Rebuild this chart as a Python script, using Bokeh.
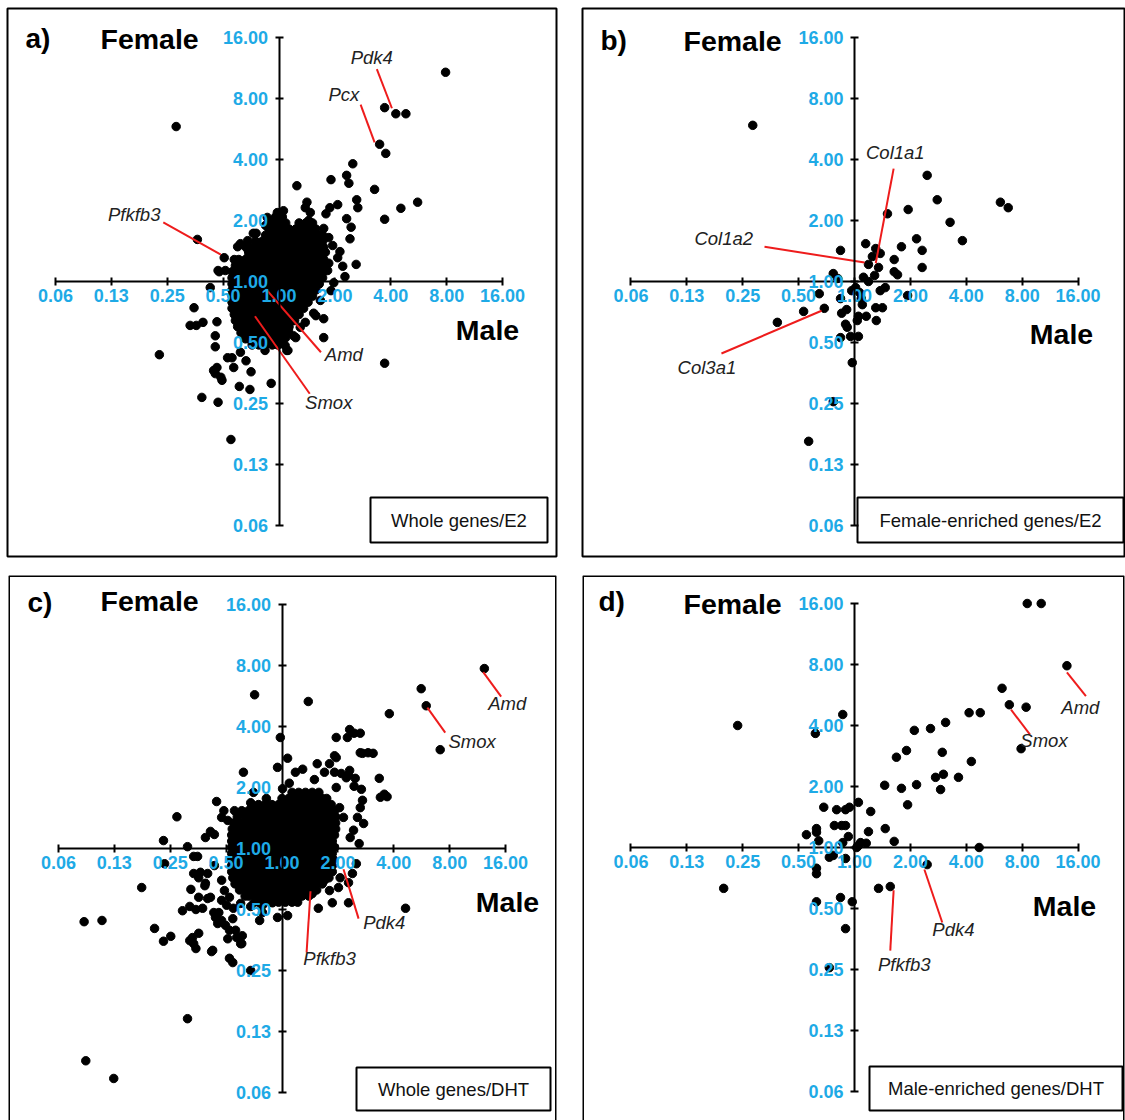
from bokeh.plotting import figure
from bokeh.layouts import column, row
from bokeh.models import FixedTicker, NumeralTickFormatter, Label, Range1d
from bokeh.embed import file_html
from bokeh.resources import INLINE

# ---------------- axis ticks ----------------
TICK_VALUES = [0.0625, 0.125, 0.25, 0.5, 1.0, 2.0, 4.0, 8.0, 16.0]
TICK_LABELS = ["0.06", "0.13", "0.25", "0.50", "1.00", "2.00", "4.00", "8.00", "16.00"]

X_TITLE = "Male"
Y_TITLE = "Female"
PANEL_LETTERS = ["a)", "b)", "c)", "d)"]
PANEL_NAMES = ["Whole genes/E2", "Female-enriched genes/E2",
               "Whole genes/DHT", "Male-enriched genes/DHT"]

# ---------------- data (log2 fold change: (male, female)) ----------------
# dense core of the whole-gene clouds, rows of (female_log2, [male_log2 ...])
A_CORE = [
    (1.06, [-0.06, 0.06]),
    (0.96, [-0.12, 0.0, 0.12, 0.36, 0.48, 0.60]),
    (0.86, [-0.18, -0.06, 0.06, 0.18, 0.30, 0.42, 0.54, 0.66]),
    (0.76, [-0.24, -0.12, 0.0, 0.12, 0.24, 0.36, 0.48, 0.60, 0.72, 0.78]),
    (0.66, [-0.42, -0.30, -0.18, -0.06, 0.06, 0.18, 0.30, 0.42, 0.54, 0.66, 0.78]),
    (0.56, [-0.48, -0.36, -0.24, -0.12, 0.0, 0.12, 0.24, 0.36, 0.48, 0.60, 0.72, 0.80]),
    (0.46, [-0.54, -0.42, -0.30, -0.18, -0.06, 0.06, 0.18, 0.30, 0.42, 0.54, 0.66, 0.78]),
    (0.36, [-0.72, -0.60, -0.48, -0.36, -0.24, -0.12, 0.0, 0.12, 0.24, 0.36, 0.48, 0.60, 0.72, 0.80]),
    (0.26, [-0.78, -0.66, -0.54, -0.42, -0.30, -0.18, -0.06, 0.06, 0.18, 0.30, 0.42, 0.54, 0.66, 0.78]),
    (0.16, [-0.84, -0.72, -0.60, -0.48, -0.36, -0.24, -0.12, 0.0, 0.12, 0.24, 0.36, 0.48, 0.60, 0.72, 0.80]),
    (0.06, [-0.84, -0.78, -0.66, -0.54, -0.42, -0.30, -0.18, -0.06, 0.06, 0.18, 0.30, 0.42, 0.54, 0.66, 0.78]),
    (-0.04, [-0.84, -0.72, -0.60, -0.48, -0.36, -0.24, -0.12, 0.0, 0.12, 0.24, 0.36, 0.48, 0.60, 0.72]),
    (-0.14, [-0.84, -0.78, -0.66, -0.54, -0.42, -0.30, -0.18, -0.06, 0.06, 0.18, 0.30, 0.42, 0.54, 0.66]),
    (-0.24, [-0.84, -0.72, -0.60, -0.48, -0.36, -0.24, -0.12, 0.0, 0.12, 0.24, 0.36, 0.48, 0.60]),
    (-0.34, [-0.84, -0.78, -0.66, -0.54, -0.42, -0.30, -0.18, -0.06, 0.06, 0.18, 0.30, 0.42, 0.52]),
    (-0.44, [-0.84, -0.72, -0.60, -0.48, -0.36, -0.24, -0.12, 0.0, 0.12, 0.24, 0.36, 0.44]),
    (-0.54, [-0.80, -0.66, -0.54, -0.42, -0.30, -0.18, -0.06, 0.06, 0.18, 0.30, 0.36]),
    (-0.64, [-0.78, -0.72, -0.60, -0.48, -0.36, -0.24, -0.12, 0.0, 0.12, 0.24, 0.28]),
    (-0.74, [-0.74, -0.66, -0.54, -0.42, -0.30, -0.18, -0.06, 0.06, 0.18]),
    (-0.84, [-0.68, -0.60, -0.48, -0.36, -0.24, -0.12, 0.0, 0.12]),
    (-0.94, [-0.60, -0.54, -0.42, -0.30, -0.18, -0.06, 0.06]),
    (-1.04, [-0.48, -0.36, -0.24, -0.12, -0.02]),
]

A_POINTS = [
    (2.98, 3.43), (1.89, 2.85), (2.09, 2.75), (2.27, 2.75), (-1.84, 2.54), (1.80, 2.25),
    (1.91, 2.10), (1.32, 1.93), (1.21, 1.74), (1.25, 1.61), (0.93, 1.67), (0.32, 1.57),
    (1.71, 1.51), (1.39, 1.34), (2.48, 1.30), (2.18, 1.20), (1.89, 1.02), (0.50, 1.30),
    (1.05, 1.26), (0.91, 1.21), (1.41, 1.21), (1.21, 1.03), (1.29, 0.89), (1.27, 0.70),
    (1.09, 0.49), (1.38, 0.28), (1.18, 0.08), (1.14, 0.25), (-1.46, 0.69), (-0.41, 0.79),
    (-0.98, 0.39), (-0.80, 0.36), (-1.07, 0.16), (-1.23, -0.10), (-0.21, 1.05), (-1.52, -0.43),
    (-1.59, -0.72), (-1.48, -0.72), (-1.36, -0.67), (-1.11, -0.66), (-1.14, -0.89), (-2.14, -1.20),
    (-1.14, -1.07), (-0.84, -1.25), (-0.59, -1.30), (-1.11, -1.41), (-1.14, -1.51), (-0.50, -1.48),
    (-1.02, -1.62), (-0.71, -1.72), (-0.52, -1.77), (-0.14, -1.67), (-1.38, -1.90), (-1.09, -1.98),
    (-0.86, -2.59), (1.89, -1.34), (0.80, -0.92), (0.66, -0.56), (0.80, -0.61), (0.30, -0.92),
    (0.14, -1.13), (-0.25, -1.13), (0.11, -1.05), (0.84, 1.11), (0.98, -0.02), (0.93, -0.15),
    (0.26, -0.89), (0.16, -1.13), (0.03, -1.02), (-0.46, 0.79), (-0.69, 0.62), (-0.55, 0.51),
    (-1.09, 0.18), (-0.96, 0.18), (-0.92, -1.25), (-0.69, -1.16), (-0.81, -1.41), (-1.04, -1.57),
    (-1.17, -1.46), (-0.74, 0.57), (-0.60, 0.57), (-0.56, 0.67), (-0.03, 1.13), (0.03, 1.05),
    (0.08, 1.16), (-0.15, 1.00), (-0.24, 0.92), (0.47, 1.21), (0.56, 1.13), (0.53, 1.00),
    (0.42, 0.89), (0.80, 0.87), (0.89, 0.72), (0.96, 0.59), (0.83, 0.48), (0.89, 0.30),
    (0.87, 0.18), (1.05, 0.39), (0.74, -0.31), (0.62, -0.52), (0.47, -0.67), (0.38, -0.75),
    (0.17, -0.80), (0.12, -0.92),
]

B_POINTS = [
    (-1.82, 2.56), (1.30, 1.74), (1.48, 1.34), (2.61, 1.30), (2.75, 1.21), (0.96, 1.18),
    (0.59, 1.11), (1.71, 0.97), (1.93, 0.67), (1.11, 0.70), (0.84, 0.57), (1.21, 0.51),
    (-0.25, 0.51), (0.20, 0.62), (0.38, 0.54), (0.46, 0.46), (0.32, 0.41), (0.71, 0.36),
    (0.25, 0.28), (0.43, 0.23), (1.21, 0.23), (0.71, 0.16), (0.77, 0.11), (0.36, 0.10),
    (-0.38, 0.13), (-0.30, 0.05), (0.16, 0.07), (0.25, 0.0), (-0.63, -0.20), (-0.91, -0.49),
    (-1.38, -0.67), (-0.54, -0.44), (-0.25, -0.28), (-0.23, -0.52), (-0.16, -0.70), (-0.13, -0.75),
    (-0.25, -0.92), (-0.07, -0.90), (0.07, -0.90), (-0.04, -1.33), (-0.38, -1.97), (-0.82, -2.62),
    (-0.05, -0.15), (0.02, -0.10), (0.09, -0.18), (0.12, -0.28), (0.14, -0.38), (-0.14, -0.46),
    (0.07, -0.57), (0.05, -0.64), (0.38, -0.43), (0.50, -0.43), (0.39, -0.64), (0.46, -0.15),
    (0.55, -0.10), (0.95, -0.23), (0.21, -0.57),
]

C_CORE = [
    (0.92, [0.18, 0.30, 0.42, 0.54, 0.66]),
    (0.82, [0.0, 0.12, 0.24, 0.36, 0.48, 0.60, 0.72, 0.80]),
    (0.72, [-0.54, -0.42, -0.30, -0.18, -0.06, 0.06, 0.18, 0.30, 0.42, 0.54, 0.66, 0.78, 0.88]),
    (0.62, [-0.72, -0.60, -0.48, -0.36, -0.24, -0.12, 0.0, 0.12, 0.24, 0.36, 0.48, 0.60, 0.72, 0.84, 0.94]),
    (0.52, [-0.80, -0.66, -0.54, -0.42, -0.30, -0.18, -0.06, 0.06, 0.18, 0.30, 0.42, 0.54, 0.66, 0.78, 0.90, 0.96]),
    (0.42, [-0.86, -0.72, -0.60, -0.48, -0.36, -0.24, -0.12, 0.0, 0.12, 0.24, 0.36, 0.48, 0.60, 0.72, 0.84, 0.96]),
    (0.32, [-0.89, -0.78, -0.66, -0.54, -0.42, -0.30, -0.18, -0.06, 0.06, 0.18, 0.30, 0.42, 0.54, 0.66, 0.78, 0.90, 0.96]),
    (0.22, [-0.90, -0.84, -0.72, -0.60, -0.48, -0.36, -0.24, -0.12, 0.0, 0.12, 0.24, 0.36, 0.48, 0.60, 0.72, 0.84, 0.94]),
    (0.12, [-0.90, -0.78, -0.66, -0.54, -0.42, -0.30, -0.18, -0.06, 0.06, 0.18, 0.30, 0.42, 0.54, 0.66, 0.78, 0.90]),
    (0.02, [-0.90, -0.84, -0.72, -0.60, -0.48, -0.36, -0.24, -0.12, 0.0, 0.12, 0.24, 0.36, 0.48, 0.60, 0.72, 0.84, 0.94]),
    (-0.08, [-0.90, -0.78, -0.66, -0.54, -0.42, -0.30, -0.18, -0.06, 0.06, 0.18, 0.30, 0.42, 0.54, 0.66, 0.78, 0.90]),
    (-0.18, [-0.90, -0.84, -0.72, -0.60, -0.48, -0.36, -0.24, -0.12, 0.0, 0.12, 0.24, 0.36, 0.48, 0.60, 0.72, 0.84, 0.92]),
    (-0.28, [-0.90, -0.78, -0.66, -0.54, -0.42, -0.30, -0.18, -0.06, 0.06, 0.18, 0.30, 0.42, 0.54, 0.66, 0.78, 0.90]),
    (-0.38, [-0.90, -0.84, -0.72, -0.60, -0.48, -0.36, -0.24, -0.12, 0.0, 0.12, 0.24, 0.36, 0.48, 0.60, 0.72, 0.84, 0.90]),
    (-0.48, [-0.88, -0.78, -0.66, -0.54, -0.42, -0.30, -0.18, -0.06, 0.06, 0.18, 0.30, 0.42, 0.54, 0.66, 0.78, 0.84]),
    (-0.58, [-0.84, -0.72, -0.60, -0.48, -0.36, -0.24, -0.12, 0.0, 0.12, 0.24, 0.36, 0.48, 0.60, 0.72]),
    (-0.68, [-0.76, -0.66, -0.54, -0.42, -0.30, -0.18, -0.06, 0.06, 0.18, 0.30, 0.42, 0.54, 0.62]),
    (-0.78, [-0.66, -0.60, -0.48, -0.36, -0.24, -0.12, 0.0, 0.12, 0.24, 0.36, 0.48]),
    (-0.88, [-0.50, -0.42, -0.30, -0.18, -0.06, 0.06, 0.18, 0.28]),
]

C_POINTS = [
    (3.62, 2.95), (2.49, 2.62), (2.58, 2.34), (2.83, 1.62), (1.92, 2.21), (0.47, 2.41),
    (-0.49, 2.52), (-0.03, 1.82), (0.97, 1.82), (1.21, 1.95), (1.29, 1.89), (1.17, 1.82),
    (1.40, 1.89), (1.44, 1.56), (1.54, 1.57), (1.63, 1.56), (0.97, 1.49), (0.10, 1.48),
    (0.63, 1.39), (0.85, 1.39), (-0.08, 1.33), (0.24, 1.25), (0.37, 1.30), (-0.69, 1.25),
    (0.76, 1.25), (0.94, 1.25), (1.06, 1.23), (1.15, 1.16), (1.21, 1.28), (0.58, 1.13),
    (1.31, 1.15), (1.74, 1.15), (1.29, 1.02), (1.42, 0.97), (1.44, 0.79), (1.76, 0.84),
    (1.83, 0.89), (1.88, 0.85), (0.97, 1.00), (0.13, 1.07), (0.01, 0.98), (0.94, 1.52),
    (1.40, 1.57), (1.19, 1.20), (1.40, 0.67), (1.35, 0.51), (1.46, 0.41), (1.28, 0.30),
    (1.22, 0.18), (1.38, 0.08), (1.33, -0.25), (1.26, -0.41), (1.19, -0.56), (1.04, -0.48),
    (1.01, -0.64), (0.85, -0.69), (0.76, -0.52), (0.54, -0.74), (0.65, -0.98), (0.90, -0.89),
    (1.19, -0.89), (2.21, -0.98), (-0.08, -1.13), (0.10, -1.10), (-0.40, -1.18), (-0.35, -1.05),
    (1.10, 0.51), (1.03, 0.67),
    (-1.17, 0.77), (-1.88, 0.52), (-2.12, 0.13), (-1.69, 0.03), (-1.58, -0.13), (-1.51, -0.13),
    (-1.37, 0.18), (-1.28, 0.28), (-1.21, 0.23), (-1.04, 0.62), (-1.08, 0.51), (-0.97, 0.46),
    (-0.85, 0.62), (-0.56, 0.75), (-0.51, 0.92), (-0.28, 0.82), (-2.10, -0.25), (-2.51, -0.64),
    (-3.54, -1.20), (-3.22, -1.18), (-2.28, -1.31), (-2.12, -1.52), (-1.99, -1.44), (-1.63, -0.67),
    (-1.38, -0.61), (-1.49, -0.48), (-1.78, -1.02), (-1.65, -0.95), (-1.54, -1.00), (-1.42, -0.98),
    (-1.49, -0.80), (-1.33, -0.82), (-1.65, -1.51), (-1.54, -1.64), (-1.49, -1.39), (-1.26, -1.69),
    (-0.94, -1.80), (-0.88, -1.87), (-0.56, -2.00), (-1.19, -1.13), (-1.13, -1.05), (-1.08, -1.18),
    (-1.01, -1.26), (-0.88, -1.15), (-0.94, -1.34), (-0.81, -1.46), (-0.72, -1.56), (-0.97, -1.48),
    (-1.69, -2.79), (-3.51, -3.48), (-3.01, -3.77), (-1.21, -0.28), (-1.33, -0.41), (-1.46, -0.39),
    (-1.08, -0.52), (-1.03, -0.69), (-0.94, -0.80), (-1.08, -0.85), (-1.58, -0.41), (-1.37, -0.57),
    (-1.28, -0.80), (-1.22, -1.05), (-1.15, -1.23), (-0.83, -1.34), (-0.74, -1.56), (-0.71, -1.43),
    (-1.24, -1.67), (-1.60, -1.46), (-1.58, -1.56), (-0.99, -0.93), (-0.87, -0.98), (-0.74, -0.90),
    (-0.56, -0.95), (-0.35, -0.93), (-0.17, -0.89),
]

D_POINTS = [
    (3.09, 4.00), (3.34, 4.00), (3.80, 2.98), (2.64, 2.61), (2.77, 2.34), (3.07, 2.30),
    (2.05, 2.21), (2.25, 2.21), (2.98, 1.62), (1.63, 2.05), (1.36, 1.95), (1.07, 1.92),
    (-0.21, 2.18), (-2.09, 2.00), (-0.70, 1.87), (0.93, 1.59), (0.75, 1.48), (1.57, 1.56),
    (2.09, 1.41), (1.45, 1.15), (1.59, 1.20), (1.86, 1.15), (1.54, 0.95), (0.54, 1.02),
    (0.84, 0.97), (1.11, 1.03), (0.95, 0.70), (0.07, 0.74), (0.29, 0.59), (-0.55, 0.66),
    (-0.32, 0.62), (-0.16, 0.62), (-0.09, 0.66), (0.25, 0.26), (0.55, 0.31), (0.71, 0.10),
    (-0.86, 0.21), (-0.68, 0.31), (-0.68, 0.25), (-0.64, 0.11), (-0.36, 0.36), (-0.23, 0.36),
    (-0.16, 0.36), (-0.21, 0.08), (-0.11, 0.18), (0.11, 0.08), (0.07, 0.03), (0.04, 0.0),
    (-0.45, -0.16), (-0.38, -0.13), (-0.16, -0.18), (-0.68, -0.34), (-0.68, -0.43), (0.43, -0.67),
    (0.64, -0.64), (-0.68, -0.89), (-0.25, -0.82), (-0.04, -0.89), (-0.16, -1.33), (-2.34, -0.67),
    (-0.45, -1.97), (2.23, 0.0), (1.30, -0.28), (0.21, 0.07),
]

# gene call-outs: (name, text_x, text_y, line_x0, line_y0, line_x1, line_y1) in log2 units
A_GENES = [("Pdk4", 1.66, 3.67, 1.75, 3.48, 2.02, 2.84),
           ("Pcx", 1.16, 3.07, 1.46, 2.90, 1.71, 2.28),
           ("Pfkfb3", -2.59, 1.10, -2.07, 0.97, -1.04, 0.44),
           ("Amd", 1.16, -1.20, -0.23, -0.13, 0.75, -1.16),
           ("Smox", 0.89, -1.98, -0.43, -0.57, 0.55, -1.84)]
B_GENES = [("Col1a1", 0.73, 2.11, 0.70, 1.85, 0.38, 0.30),
           ("Col1a2", -2.34, 0.70, -1.61, 0.57, 0.18, 0.31),
           ("Col3a1", -2.64, -1.41, -2.38, -1.18, -0.59, -0.48)]
C_GENES = [("Amd", 4.03, 2.38, 3.60, 2.89, 3.92, 2.49),
           ("Smox", 3.40, 1.75, 2.60, 2.31, 2.92, 1.90),
           ("Pdk4", 1.83, -1.21, 1.10, -0.34, 1.37, -1.15),
           ("Pfkfb3", 0.85, -1.80, 0.51, -0.70, 0.44, -1.70)]
D_GENES = [("Amd", 4.04, 2.30, 3.80, 2.87, 4.14, 2.48),
           ("Smox", 3.39, 1.75, 2.80, 2.26, 3.14, 1.85),
           ("Pdk4", 1.77, -1.34, 1.25, -0.36, 1.57, -1.23),
           ("Pfkfb3", 0.89, -1.92, 0.70, -0.70, 0.64, -1.69)]

# ---------------- style / layout ----------------
BLUE = "#1EAAE6"
RED = "#EE1C1C"
FONT = "Liberation Sans"
SX, SY = 55.9, 61.0   # pixels per doubling

# page-pixel geometry of each panel
GEOM = [
    dict(ox=0, oy=0, w=575, h=567, fl=7, ft=8, fw=549, fh=548, X0=278.5, Y0=281, open_bottom=False,
         letter=(25, 38), female=(100, 38), male=(487, 329), box=(370, 497, 547, 542)),
    dict(ox=575, oy=0, w=550, h=567, fl=582, ft=8, fw=542, fh=548, X0=854, Y0=281, open_bottom=False,
         letter=(600, 40), female=(683, 40), male=(1061, 333), box=(857, 497, 1123, 542)),
    dict(ox=0, oy=567, w=575, h=553, fl=8, ft=575, fw=548, fh=545, X0=281.5, Y0=848, open_bottom=True,
         letter=(27, 602), female=(100, 600), male=(507, 901), box=(356, 1067, 550, 1110)),
    dict(ox=575, oy=567, w=550, h=553, fl=582, ft=575, fw=542, fh=545, X0=854, Y0=847, open_bottom=True,
         letter=(598, 601), female=(683, 603), male=(1064, 905), box=(869, 1066, 1122, 1110)),
]


def px2d(g, px, py):
    return 2 ** ((px - g["X0"]) / SX), 2 ** ((g["Y0"] - py) / SY)


def build(idx, core, points, genes):
    g = GEOM[idx]
    x0, y1 = px2d(g, g["fl"], g["ft"])
    x1, y0 = px2d(g, g["fl"] + g["fw"], g["ft"] + g["fh"])
    p = figure(width=g["w"], height=g["h"], x_axis_type="log", y_axis_type="log",
               x_range=Range1d(x0, x1), y_range=Range1d(y0, y1),
               toolbar_location=None, output_backend="svg", title=None,
               min_border_left=g["fl"] - g["ox"], min_border_top=g["ft"] - g["oy"],
               min_border_right=g["w"] - (g["fl"] - g["ox"]) - g["fw"],
               min_border_bottom=g["h"] - (g["ft"] - g["oy"]) - g["fh"])
    p.xgrid.visible = False
    p.ygrid.visible = False
    p.background_fill_color = "white"
    p.border_fill_color = "white"
    if g["open_bottom"]:
        # panel continues below the page edge: draw only left, top and right edges
        p.outline_line_color = None
        L, T = g["fl"] + 0.5, g["ft"] + 0.5
        R, B = g["fl"] + g["fw"] - 0.5, g["ft"] + g["fh"] + 5
        pts = [px2d(g, L, B), px2d(g, L, T), px2d(g, R, T), px2d(g, R, B)]
        p.line([q[0] for q in pts], [q[1] for q in pts], line_color="black", line_width=2)
    else:
        p.outline_line_color = "black"
        p.outline_line_width = 2

    for ax, standoff in ((p.xaxis[0], 3), (p.yaxis[0], 7)):
        ax.ticker = FixedTicker(ticks=TICK_VALUES, minor_ticks=[])
        ax.formatter = NumeralTickFormatter(format="0.00")
        ax.major_label_overrides = dict(zip(TICK_VALUES, TICK_LABELS))
        ax.fixed_location = 1.0
        ax.bounds = (TICK_VALUES[0], TICK_VALUES[-1])
        ax.axis_line_width = 2
        ax.axis_line_color = "black"
        ax.major_tick_line_width = 2
        ax.major_tick_line_color = "black"
        ax.major_tick_in = 4
        ax.major_tick_out = 4
        ax.minor_tick_line_color = None
        ax.major_label_text_color = BLUE
        ax.major_label_text_font = FONT
        ax.major_label_text_font_style = "bold"
        ax.major_label_text_font_size = "18px"
        ax.major_label_standoff = standoff

    # dense core
    if core:
        cx = [2 ** lx for ly, lxs in core for lx in lxs]
        cy = [2 ** ly for ly, lxs in core for lx in lxs]
        p.scatter(cx, cy, size=8.5, marker="circle", color="black")
    px = [2 ** a for a, b in points]
    py = [2 ** b for a, b in points]
    p.scatter(px, py, size=8.5, marker="circle", color="black")

    # call-out lines and names
    p.segment(x0=[2 ** gg[3] for gg in genes], y0=[2 ** gg[4] for gg in genes],
              x1=[2 ** gg[5] for gg in genes], y1=[2 ** gg[6] for gg in genes],
              line_color=RED, line_width=2)
    for name, tx, ty, *_ in genes:
        p.add_layout(Label(x=2 ** tx, y=2 ** ty, text=name, text_font=FONT,
                           text_font_style="italic", text_font_size="18.5px",
                           text_color="#222222", text_align="center",
                           text_baseline="middle"))

    # panel decorations
    lx_, ly_ = px2d(g, *g["letter"])
    p.add_layout(Label(x=lx_, y=ly_, text=PANEL_LETTERS[idx], text_font=FONT,
                       text_font_style="bold", text_font_size="28px", text_color="black",
                       text_align="left", text_baseline="middle"))
    fx, fy = px2d(g, *g["female"])
    p.add_layout(Label(x=fx, y=fy, text=Y_TITLE, text_font=FONT, text_font_style="bold",
                       text_font_size="28.5px", text_color="black", text_align="left",
                       text_baseline="middle"))
    mx, my = px2d(g, *g["male"])
    p.add_layout(Label(x=mx, y=my, text=X_TITLE, text_font=FONT, text_font_style="bold",
                       text_font_size="28.5px", text_color="black", text_align="center",
                       text_baseline="middle"))
    bl, bt, br, bb = g["box"]
    qx0, qy1 = px2d(g, bl, bt)
    qx1, qy0 = px2d(g, br, bb)
    p.quad(left=[qx0], right=[qx1], bottom=[qy0], top=[qy1], fill_color="white",
           line_color="black", line_width=2)
    tx_, ty_ = px2d(g, (bl + br) / 2, (bt + bb) / 2)
    p.add_layout(Label(x=tx_, y=ty_, text=PANEL_NAMES[idx], text_font=FONT,
                       text_font_size="18.5px", text_color="#111111", text_align="center",
                       text_baseline="middle"))
    return p


pa = build(0, A_CORE, A_POINTS, A_GENES)
pb = build(1, None, B_POINTS, B_GENES)
pc = build(2, C_CORE, C_POINTS, C_GENES)
pd = build(3, None, D_POINTS, D_GENES)

layout = column(row(pa, pb, spacing=0), row(pc, pd, spacing=0), spacing=0)

with open("out.html", "w") as f:
    f.write(file_html(layout, INLINE))
